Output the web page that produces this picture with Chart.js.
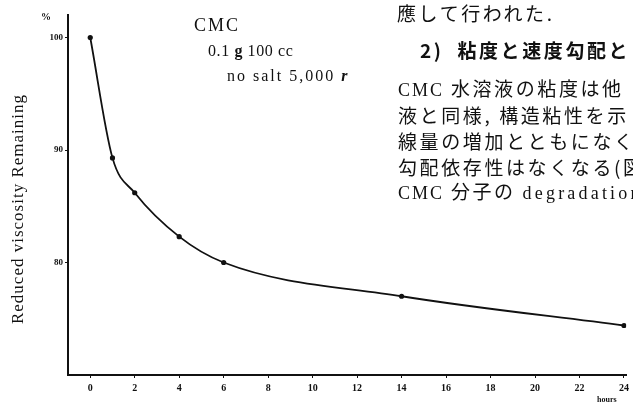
<!DOCTYPE html>
<html>
<head>
<meta charset="utf-8">
<script src="https://cdn.jsdelivr.net/npm/chart.js@4/dist/chart.umd.min.js"></script>
<style>
  html, body { margin: 0; padding: 0; background: #fff; }
  body { width: 633px; height: 407px; overflow: hidden; position: relative; }
  #wrap { position: absolute; left: 0; top: 0; width: 633px; height: 407px; }
  .t { position: absolute; white-space: nowrap; color: #111; line-height: 1; }
  .serif { font-family: "Liberation Serif", "DejaVu Serif", serif; }
  .jp { font-family: "Noto Sans CJK JP", sans-serif; font-size: 19px; letter-spacing: 2.6px; font-weight: 400; }
  .jp .serif { font-size: 18px; letter-spacing: 2px; }
</style>
</head>
<body>
<div id="wrap"><canvas id="c" width="633" height="407"></canvas></div>

<!-- 註記（圖中文字） -->
<div class="t serif" style="left:41px; top:12px; font-size:10px; font-weight:bold;">%</div>
<div class="t serif" style="left:194px; top:16px; font-size:18px; letter-spacing:2px;">CMC</div>
<div class="t serif" style="left:208px; top:43px; font-size:16px; letter-spacing:0.6px;">0.1 <b>g</b> 100 cc</div>
<div class="t serif" style="left:227px; top:68px; font-size:16px; letter-spacing:2px;">no salt 5,000 <b><i>r</i></b></div>
<div class="t serif" style="left:597px; top:396px; font-size:8px; font-weight:bold;">hours</div>
<div class="t serif" style="left:17px; top:209px; font-size:17px; letter-spacing:1px; transform: translate(-50%,-50%) rotate(-90deg);">Reduced viscosity Remaining</div>

<div class="t jp" style="left:397px; top:3px;">應して行われた.</div>
<div class="t jp" style="left:420px; top:40px; font-weight:bold;">2)&nbsp; 粘度と速度勾配と</div>
<div class="t jp" style="left:398px; top:78px;"><span class="serif">CMC</span> 水溶液の粘度は他</div>
<div class="t jp" style="left:398px; top:105px;">液と同様, 構造粘性を示</div>
<div class="t jp" style="left:398px; top:131px;">線量の増加とともになく</div>
<div class="t jp" style="left:398px; top:157px;">勾配依存性はなくなる(図</div>
<div class="t jp" style="left:398px; top:181px;"><span class="serif">CMC</span> 分子の <span class="serif" style="letter-spacing:3.2px;">degradation</span></div>

<script>
// ====== 資料 ======
const hours = [0, 1, 2, 4, 6, 14, 24];
const remaining = [100, 89.3, 86.2, 82.3, 80.0, 77.0, 74.4];
const xTicks = [0, 2, 4, 6, 8, 10, 12, 14, 16, 18, 20, 22, 24];
const yTicks = [80, 90, 100];

const ink = '#111';
const tickFont = { family: '"Liberation Serif", serif', size: 10, weight: 'bold' };

new Chart(document.getElementById('c'), {
  type: 'line',
  data: {
    datasets: [{
      data: hours.map((h, i) => ({ x: h, y: remaining[i] })),
      borderColor: ink,
      borderWidth: 1.8,
      pointRadius: 2.6,
      pointBackgroundColor: ink,
      pointBorderWidth: 0,
      cubicInterpolationMode: 'monotone',
      fill: false
    }]
  },
  options: {
    responsive: false,
    animation: false,
    layout: { padding: { left: 0, right: 2, top: 15, bottom: 0 } },
    plugins: { legend: { display: false }, tooltip: { enabled: false } },
    scales: {
      x: {
        type: 'linear', min: -1, max: 24.1,
        afterBuildTicks: (s) => { s.ticks = xTicks.map(v => ({ value: v })); },
        afterFit: (s) => { s.height = 32; },
        border: { color: ink, width: 2 },
        grid: { drawOnChartArea: false, tickLength: 3, color: ink },
        ticks: { color: ink, font: tickFont, padding: 4, maxRotation: 0 }
      },
      y: {
        min: 70, max: 102,
        afterBuildTicks: (s) => { s.ticks = yTicks.map(v => ({ value: v })); },
        afterFit: (s) => { s.width = 68; },
        border: { color: ink, width: 2 },
        grid: { drawOnChartArea: false, tickLength: 3, color: ink },
        ticks: { color: ink, font: { family: '"Liberation Serif", serif', size: 9, weight: 'bold' }, padding: 2 }
      }
    }
  }
});
</script>
</body>
</html>
